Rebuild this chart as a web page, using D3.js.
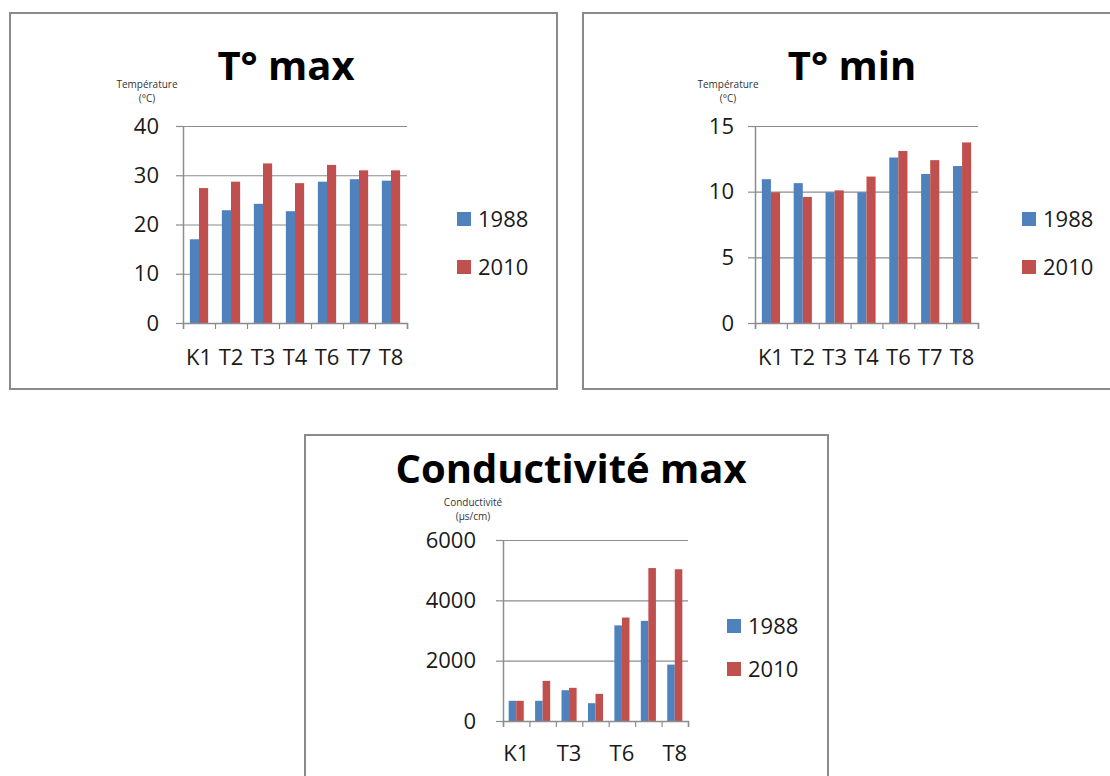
<!DOCTYPE html>
<html>
<head>
<meta charset="utf-8">
<script src="https://cdn.jsdelivr.net/npm/d3@7"></script>
<style>
  html, body { margin: 0; padding: 0; background: #ffffff; }
  svg { display: block; }
  text { font-family: "Open Sans", "Noto Sans", sans-serif; }
</style>
</head>
<body>
<svg id="chart" width="1110" height="776"></svg>
<script>
// ---------- data ----------
const categories = ["K1", "T2", "T3", "T4", "T6", "T7", "T8"];
const seriesNames = ["1988", "2010"];

const tmax1988 = [17.0, 22.9, 24.2, 22.7, 28.7, 29.2, 28.9];
const tmax2010 = [27.4, 28.7, 32.4, 28.4, 32.1, 31.0, 31.0];
const tmaxTicks = [0, 10, 20, 30, 40];

const tmin1988 = [10.95, 10.65, 9.95, 9.95, 12.6, 11.35, 11.95];
const tmin2010 = [9.95, 9.6, 10.1, 11.15, 13.1, 12.4, 13.75];
const tminTicks = [0, 5, 10, 15];

const cond1988 = [670, 670, 1020, 590, 3170, 3320, 1870];
const cond2010 = [670, 1330, 1100, 900, 3430, 5070, 5030];
const condTicks = [0, 2000, 4000, 6000];
const condShownLabels = ["K1", "T3", "T6", "T8"];

const colors = ["#4F81BD", "#C0504D"];

const svg = d3.select("#chart");

function drawChart(cfg) {
  const g = svg.append("g");
  // frame
  g.append("rect")
    .attr("x", cfg.box[0]).attr("y", cfg.box[1])
    .attr("width", cfg.box[2]).attr("height", cfg.box[3])
    .attr("fill", "#ffffff").attr("stroke", "#8a8a8a").attr("stroke-width", 2);

  // title
  g.append("text")
    .attr("x", cfg.titleX).attr("y", cfg.titleY)
    .attr("text-anchor", "middle")
    .attr("font-size", cfg.titleSize).attr("font-weight", "bold")
    .attr("fill", "#000")
    .text(cfg.title);

  // unit label
  cfg.unit.forEach((u, i) => {
    g.append("text")
      .attr("x", cfg.unitX).attr("y", cfg.unitY + i * 14)
      .attr("text-anchor", "middle")
      .attr("font-size", 10).attr("fill", "#333")
      .text(u);
  });

  const p = cfg.plot; // [left, top, right, bottom]
  const x = d3.scaleBand().domain(categories).range([p[0], p[2]]).paddingInner(0).paddingOuter(0);
  const y = d3.scaleLinear().domain([cfg.ticks[0], cfg.ticks[cfg.ticks.length - 1]]).range([p[3], p[1]]);
  const bw = x.bandwidth() / 3.5;
  const xs = d3.scaleBand().domain(seriesNames).range([bw * 0.75, bw * 2.75]);

  // gridlines
  const grid = g.append("g").attr("transform", `translate(${p[0]},0)`)
    .call(d3.axisLeft(y).tickValues(cfg.ticks).tickSize(-(p[2] - p[0])).tickFormat(""));
  grid.select(".domain").remove();
  grid.selectAll("line").attr("stroke", "#8c8c8c").attr("stroke-width", 1.2);

  // bars
  const data = categories.map((c, i) => ({ c, vals: cfg.series.map(s => s[i]) }));
  const groups = g.append("g").selectAll("g").data(data).join("g")
    .attr("transform", d => `translate(${x(d.c)},0)`);
  groups.selectAll("rect").data(d => d.vals.map((v, k) => ({ v, k })))
    .join("rect")
    .attr("x", d => xs(seriesNames[d.k]))
    .attr("width", xs.bandwidth())
    .attr("y", d => y(d.v))
    .attr("height", d => y(cfg.ticks[0]) - y(d.v))
    .attr("fill", d => colors[d.k]);

  // y axis
  const ya = g.append("g").attr("transform", `translate(${p[0]},0)`)
    .call(d3.axisLeft(y).tickValues(cfg.ticks).tickFormat(d3.format("d"))
      .tickSizeInner(7).tickSizeOuter(0).tickPadding(cfg.yPad));
  ya.select(".domain").attr("stroke", "#8c8c8c").attr("stroke-width", 1.5);
  ya.selectAll("line").attr("stroke", "#8c8c8c").attr("stroke-width", 1.2);
  ya.selectAll("text").attr("font-size", 22).attr("fill", "#1a1a1a")
    .style("font-family", "'Open Sans', sans-serif");

  // x axis: boundary ticks
  const xi = d3.scaleLinear().domain([0, categories.length]).range([p[0], p[2]]);
  const xb = g.append("g").attr("transform", `translate(0,${p[3]})`)
    .call(d3.axisBottom(xi).tickValues(d3.range(categories.length + 1)).tickSize(6).tickFormat(""));
  xb.select(".domain").attr("stroke", "#8c8c8c").attr("stroke-width", 1.5);
  xb.selectAll("line").attr("stroke", "#8c8c8c").attr("stroke-width", 1.2);

  // x axis labels
  const shown = cfg.shownLabels || categories;
  const xl = g.append("g").attr("transform", `translate(0,${p[3]})`)
    .call(d3.axisBottom(x).tickValues(shown).tickSize(0).tickPadding(cfg.xPad));
  xl.select(".domain").remove();
  xl.selectAll("text").attr("font-size", 22).attr("fill", "#1a1a1a")
    .style("font-family", "'Open Sans', sans-serif");

  // legend
  seriesNames.forEach((s, k) => {
    const ly = cfg.legendY[k];
    g.append("rect").attr("x", cfg.legendX).attr("y", ly - 7)
      .attr("width", 14).attr("height", 14).attr("fill", colors[k]);
    g.append("text").attr("x", cfg.legendX + 21).attr("y", ly)
      .attr("dy", "0.36em").attr("font-size", 22).attr("fill", "#1a1a1a")
      .text(s);
  });
}

drawChart({
  box: [10, 13, 547, 376],
  title: "T° max", titleX: 286, titleY: 80, titleSize: 40,
  unit: ["Température", "(°C)"], unitX: 147, unitY: 88,
  ticks: tmaxTicks, series: [tmax1988, tmax2010],
  plot: [183, 126, 407, 323], yPad: 17, xPad: 26,
  legendX: 457, legendY: [219, 267]
});

drawChart({
  box: [583, 13, 540, 376],
  title: "T° min", titleX: 852, titleY: 80, titleSize: 40,
  unit: ["Température", "(°C)"], unitX: 728, unitY: 88,
  ticks: tminTicks, series: [tmin1988, tmin2010],
  plot: [755, 126, 978, 323], yPad: 14, xPad: 26,
  legendX: 1022, legendY: [219, 267]
});

drawChart({
  box: [305, 435, 523, 360],
  title: "Conductivité max", titleX: 571, titleY: 483, titleSize: 40,
  unit: ["Conductivité", "(µs/cm)"], unitX: 473, unitY: 506,
  ticks: condTicks, series: [cond1988, cond2010],
  plot: [503, 540, 688, 721], yPad: 20, xPad: 24,
  shownLabels: condShownLabels,
  legendX: 727, legendY: [626, 669]
});
</script>
</body>
</html>
